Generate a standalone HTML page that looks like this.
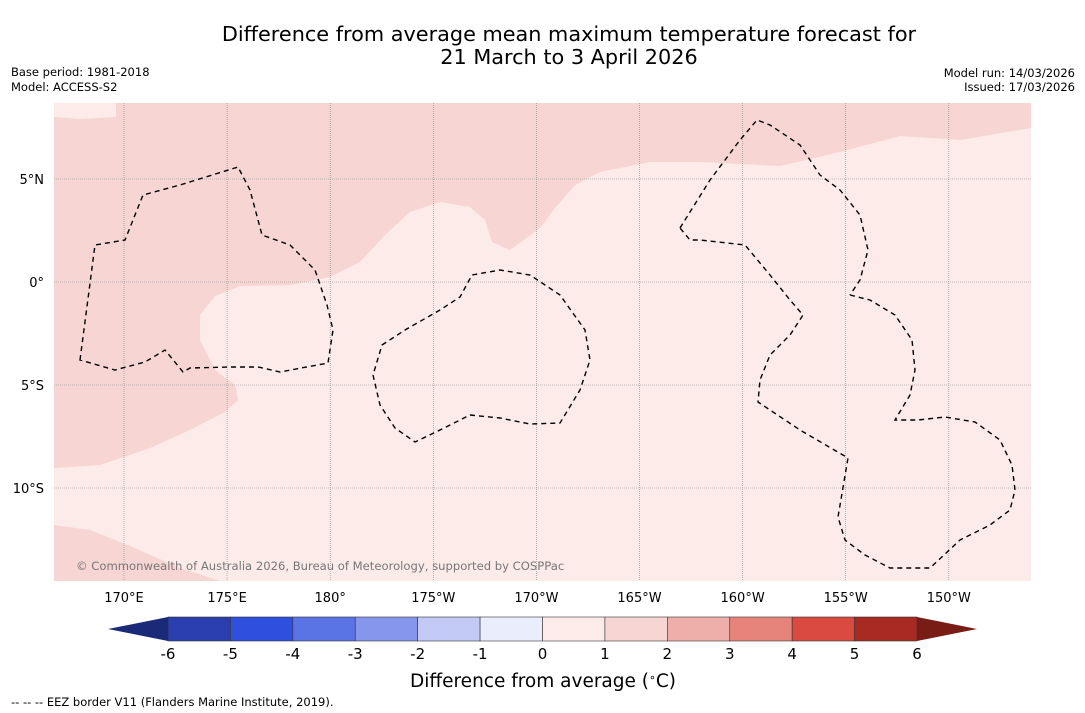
<!DOCTYPE html>
<html><head><meta charset="utf-8"><style>
body{margin:0;background:#fff;font-family:"DejaVu Sans","Liberation Sans",sans-serif;}
svg{display:block}
</style></head><body>
<svg width="1085" height="713" viewBox="0 0 1085 713">
<text x="569" y="41" text-anchor="middle" font-size="20.8">Difference from average mean maximum temperature forecast for</text>
<text x="569" y="64" text-anchor="middle" font-size="20.8">21 March to 3 April 2026</text>
<text x="11" y="76" font-size="11.5">Base period: 1981-2018</text>
<text x="11" y="91" font-size="11.5">Model: ACCESS-S2</text>
<text x="1075" y="77" font-size="11.5" text-anchor="end">Model run: 14/03/2026</text>
<text x="1075" y="91" font-size="11.5" text-anchor="end">Issued: 17/03/2026</text>
<g>
<rect x="54" y="103" width="977" height="478" fill="#fcebe9"/>
<path fill="#f6d5d3" d="M54,103 L1031,103 L1031,128 L960,140 L900,136 L840,152 L780,166 L700,162 L650,162 L600,172 L575,185 L555,208 L540,228 L510,250 L492,242 L485,220 L470,207 L440,202 L410,212 L385,235 L360,262 L330,277 L290,285 L240,286 L215,296 L200,315 L200,340 L215,370 L235,385 L238,400 L225,412 L190,430 L150,448 L100,465 L54,468 Z"/>
<path fill="#f6d5d3" d="M54,525 L90,530 L130,546 L180,568 L220,581 L54,581 Z"/>
<path fill="#fcebe9" d="M54,103 L116,103 L116,117 L80,119 L54,117 Z"/>
<g stroke="#888" stroke-width="0.6" stroke-dasharray="1,1" id="grid"></g>
<g fill="none" stroke="#000" stroke-width="1.4" stroke-dasharray="5,4">
<path d="M80,360 L95,245 L125,240 L143,195 L180,185 L238,167 L250,190 L262,235 L290,245 L315,270 L327,305 L333,330 L328,363 L280,372 L258,367 L230,367 L190,368 L183,372 L165,350 L145,362 L115,370 Z"/>
<path d="M382,345 L405,330 L440,310 L460,297 L472,275 L500,270 L530,275 L560,295 L585,330 L590,360 L580,390 L560,423 L530,424 L500,418 L470,415 L440,430 L415,442 L395,428 L380,405 L373,375 Z"/>
<path d="M680,228 L710,180 L740,140 L757,120 L770,125 L800,145 L820,175 L840,190 L860,215 L868,250 L860,280 L850,295"/>
<path d="M850,295 L870,300 L895,315 L912,340 L915,370 L910,395 L895,420 L918,420 L945,417 L975,422 L1000,440 L1012,465 L1015,490 L1010,510 L990,525 L960,540 L930,568 L890,568 L865,555 L845,540 L838,517 L848,458 L800,430 L758,402 L760,380 L770,355 L790,335 L803,315 L790,300 L770,275 L745,245 L700,240 L690,240 L680,228"/>
</g>
<text x="76" y="570" font-size="11.6" fill="#777">© Commonwealth of Australia 2026, Bureau of Meteorology, supported by COSPPac</text>
</g>
<g id="axes" font-size="13"></g>
<g id="cbar"></g>
<text x="543" y="687" text-anchor="middle" font-size="18.5">Difference from average (<tspan font-size="11" dy="-6">∘</tspan><tspan dy="6">C)</tspan></text>
<text x="11" y="706" font-size="11.5">--  --  -- EEZ border V11 (Flanders Marine Institute, 2019).</text>
</svg>
<script>
const lonTicks=[170,175,180,185,190,195,200,205,210];
const lonLabels=["170°E","175°E","180°","175°W","170°W","165°W","160°W","155°W","150°W"];
const latTicks=[5,0,-5,-10];
const latLabels=["5°N","0°","5°S","10°S"];
const levels=[-6,-5,-4,-3,-2,-1,0,1,2,3,4,5,6];
const colors=["#2a3eaf","#2f4fde","#5a73e5","#8596ec","#c1c9f4","#eaedfb","#fcebe9","#f6d5d3","#eeaea9","#e6847c","#da4a40","#a82a22"];
const NS="http://www.w3.org/2000/svg";
const lx=l=>124+(l-170)*20.62, ly=l=>282-l*20.6;
const cx=v=>168+(v+6)*(749/12);
const grid=document.getElementById('grid'),axes=document.getElementById('axes'),cb=document.getElementById('cbar');
function mk(t,a,p){const e=document.createElementNS(NS,t);for(const k in a)e.setAttribute(k,a[k]);p.appendChild(e);return e;}
lonTicks.forEach((l,i)=>{const x=lx(l);
 const g=mk('line',{x1:x,x2:x,y1:103,y2:581},grid);
 
 
 const t=mk('text',{x:x,y:602,'text-anchor':'middle'},axes);t.textContent=lonLabels[i];
 
 });
latTicks.forEach((l,i)=>{const y=ly(l);
 const g=mk('line',{x1:54,x2:1031,y1:y,y2:y},grid);
 
 
 const t=mk('text',{x:44,y:y+5,'text-anchor':'end'},axes);t.textContent=latLabels[i];
 
 });
colors.forEach((c,i)=>{const x0=cx(levels[i]),x1=cx(levels[i+1]);
 const r=mk('rect',{x:x0,y:617,width:x1-x0,height:24,fill:c,stroke:'#333','stroke-width':0.6},cb);
 
 });
const lt=mk('polygon',{points:`108,629 ${cx(-6)},617 ${cx(-6)},641`,fill:'#1b2a78'},cb);


const rt=mk('polygon',{points:`977,629 ${cx(6)},617 ${cx(6)},641`,fill:'#7a1c16'},cb);


levels.forEach(v=>{const t=mk('text',{x:cx(v),y:659,'text-anchor':'middle','font-size':15},cb);t.textContent=v;
 
 });
</script>
</body></html>
